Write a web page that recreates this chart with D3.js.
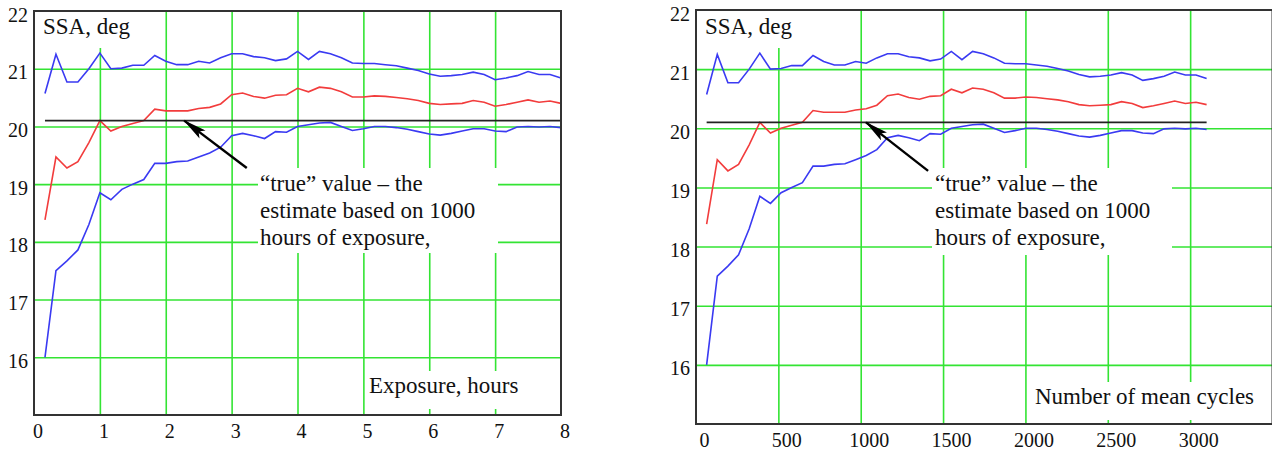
<!DOCTYPE html>
<html>
<head>
<meta charset="utf-8">
<script src="https://cdn.jsdelivr.net/npm/d3@7"></script>
<style>
  html, body { margin: 0; padding: 0; background: #fff; }
  svg { display: block; font-family: "Liberation Serif", "Times New Roman", serif; }
</style>
</head>
<body>
<svg id="chart" width="1272" height="452"></svg>
<script>
// sample times in minutes (every 10 min up to 8 hours)
const minutes = [10,20,30,40,50,60,70,80,90,100,110,120,130,140,150,160,170,180,190,200,
  210,220,230,240,250,260,270,280,290,300,310,320,330,340,350,360,370,380,390,400,
  410,420,430,440,450,460,470,480];
const cyclesPerHour = 387.5;

// upper bound, estimate and lower bound of SSA, deg
const upperBound = [20.57,21.25,20.77,20.77,21.0,21.27,21.0,21.01,21.06,21.06,
  21.23,21.13,21.07,21.07,21.13,21.1,21.19,21.26,21.26,21.21,
  21.19,21.14,21.17,21.3,21.16,21.3,21.26,21.19,21.1,21.09,
  21.09,21.07,21.05,21.01,20.97,20.91,20.87,20.88,20.9,20.94,
  20.9,20.81,20.84,20.88,20.95,20.9,20.9,20.84];
const estimate = [18.38,19.47,19.28,19.39,19.72,20.1,19.92,20.0,20.05,20.1,
  20.3,20.27,20.27,20.27,20.31,20.33,20.39,20.55,20.58,20.52,
  20.49,20.54,20.55,20.66,20.6,20.68,20.66,20.6,20.51,20.51,
  20.53,20.52,20.5,20.48,20.45,20.4,20.38,20.39,20.4,20.45,
  20.42,20.35,20.38,20.42,20.46,20.42,20.44,20.4];
const lowerBound = [16.0,17.5,17.67,17.86,18.3,18.85,18.73,18.91,19.0,19.08,
  19.36,19.36,19.39,19.4,19.47,19.54,19.64,19.84,19.88,19.84,
  19.79,19.91,19.9,20.0,20.03,20.06,20.07,20.0,19.93,19.96,
  20.0,20.0,19.98,19.95,19.91,19.87,19.85,19.88,19.92,19.96,
  19.96,19.92,19.91,19.99,20.0,19.99,20.0,19.98];
const trueValue = 20.1;

const yTicks = [16,17,18,19,20,21,22];
const hourTicks = [0,1,2,3,4,5,6,7,8];
const cycleTicks = [0,500,1000,1500,2000,2500,3000];
const yLabel = "SSA, deg";
const noteLines = ["\u201Ctrue\u201D value \u2013 the", "estimate based on 1000", "hours of exposure,"];

const hours = minutes.map(m => m / 60);
const cycles = hours.map(h => h * cyclesPerHour);

const GRID = "#33e433";
const svg = d3.select("#chart");

// two panels: same values, different x unit
const panels = [
  {
    xs: hours, domain: [0, 8], ticks: hourTicks, grid: [1,2,3,4,5,6,7],
    left: 34, right: 561, top: 11, bottom: 415, labelDx: 3.5,
    title: "Exposure, hours", titleX: 369, titleY: 393,
    noteX: 260, arrowTip: [2.28, trueValue], arrowTail: [3.23, 19.28],
    masks: [[35, 12, 150, 48], [258, 168, 498, 253], [366, 371, 527, 409]]
  },
  {
    xs: cycles, domain: [0, 3500], ticks: cycleTicks, grid: [500,1000,1500,2000,2500,3000],
    left: 696, right: 1272.5, top: 10, bottom: 424, labelDx: 8,
    title: "Number of mean cycles", titleX: 1035, titleY: 404,
    noteX: 935, arrowTip: [1032, trueValue], arrowTail: [1409, 19.28],
    masks: [[697, 11, 800, 48], [932, 168, 1172, 255], [1030, 382, 1272, 420]]
  }
];

svg.append("defs").append("marker")
  .attr("id", "head")
  .attr("markerUnits", "userSpaceOnUse")
  .attr("viewBox", "0 0 24 10")
  .attr("refX", 23).attr("refY", 5)
  .attr("markerWidth", 24).attr("markerHeight", 10)
  .attr("orient", "auto")
  .append("path")
  .attr("d", "M0,0 L24,5 L0,10 L5,5 Z")
  .attr("fill", "#000");

panels.forEach(p => {
  const x = d3.scaleLinear().domain(p.domain).range([p.left, p.right]);
  const y = d3.scaleLinear().domain([15, 22]).range([p.bottom, p.top]);
  const g = svg.append("g");

  // grid lines
  g.append("g")
    .attr("transform", `translate(0,${p.bottom})`)
    .call(d3.axisBottom(x).tickValues(p.grid).tickSize(-(p.bottom - p.top)).tickFormat(""))
    .call(a => a.select(".domain").remove())
    .call(a => a.selectAll("line").attr("stroke", GRID).attr("stroke-width", 1.6));
  g.append("g")
    .attr("transform", `translate(${p.left},0)`)
    .call(d3.axisLeft(y).tickValues(yTicks.filter(v => v < 22)).tickSize(-(p.right - p.left)).tickFormat(""))
    .call(a => a.select(".domain").remove())
    .call(a => a.selectAll("line").attr("stroke", GRID).attr("stroke-width", 1.6));

  // white boxes behind text regions
  g.selectAll(".mask").data(p.masks).join("rect")
    .attr("x", d => d[0]).attr("y", d => d[1])
    .attr("width", d => d[2] - d[0]).attr("height", d => d[3] - d[1])
    .attr("fill", "#fff");

  // tick labels
  g.append("g")
    .attr("transform", `translate(0,${p.bottom})`)
    .call(d3.axisBottom(x).tickValues(p.ticks).tickSize(0).tickPadding(0).tickFormat(d3.format("d")))
    .call(a => a.select(".domain").remove())
    .call(a => a.selectAll("text")
      .attr("font-family", "Liberation Serif").attr("font-size", 20).attr("fill", "#111")
      .attr("dx", p.labelDx).attr("dy", 0).attr("y", 23));
  g.append("g")
    .attr("transform", `translate(${p.left},0)`)
    .call(d3.axisLeft(y).tickValues(yTicks).tickSize(0).tickPadding(6).tickFormat(d3.format("d")))
    .call(a => a.select(".domain").remove())
    .call(a => a.selectAll("text")
      .attr("font-family", "Liberation Serif").attr("font-size", 20).attr("fill", "#111")
      .attr("dy", 0).attr("transform", "translate(0,10)"));

  // series
  const line = vals => d3.line().x((d, i) => x(p.xs[i])).y(d => y(d))(vals);
  [[upperBound, "#3a3af2"], [estimate, "#f23c3c"], [lowerBound, "#3a3af2"]].forEach(([vals, c]) => {
    g.append("path").attr("d", line(vals))
      .attr("fill", "none").attr("stroke", c).attr("stroke-width", 1.6);
  });

  // "true" value line
  g.append("line")
    .attr("x1", x(p.xs[0])).attr("x2", x(p.xs[p.xs.length - 1]))
    .attr("y1", y(trueValue)).attr("y2", y(trueValue))
    .attr("stroke", "#222").attr("stroke-width", 1.6);

  // arrow
  g.append("line")
    .attr("x1", x(p.arrowTail[0])).attr("y1", y(p.arrowTail[1]))
    .attr("x2", x(p.arrowTip[0])).attr("y2", y(p.arrowTip[1]))
    .attr("stroke", "#000").attr("stroke-width", 2.4)
    .attr("marker-end", "url(#head)");

  // texts
  g.append("text").attr("x", p.left + 9).attr("y", 34)
    .attr("font-size", 23).attr("fill", "#111").text(yLabel);
  g.append("text").attr("x", p.titleX).attr("y", p.titleY)
    .attr("font-size", 23).attr("fill", "#111").text(p.title);
  g.append("g").selectAll("text").data(noteLines).join("text")
    .attr("x", p.noteX).attr("y", (d, i) => 191 + i * 27)
    .attr("font-size", 23).attr("fill", "#111").text(d => d);

  // frame
  g.append("rect")
    .attr("x", p.left).attr("y", p.top)
    .attr("width", p.right - p.left).attr("height", p.bottom - p.top)
    .attr("fill", "none").attr("stroke", "#333").attr("stroke-width", 2);
});
</script>
</body>
</html>
